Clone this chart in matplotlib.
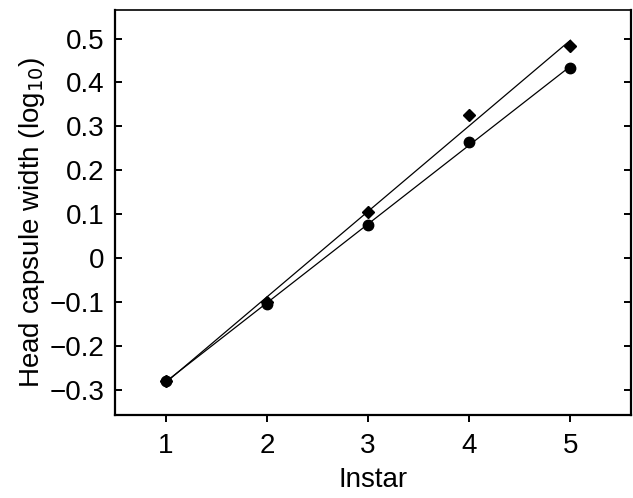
import numpy as np
import matplotlib
matplotlib.use("Agg")
import matplotlib.pyplot as plt

# Instar number vs head capsule width (log10), two groups
instar = [1, 2, 3, 4, 5]
width_a = [-0.28, -0.10, 0.105, 0.325, 0.482]   # diamonds
width_b = [-0.28, -0.105, 0.075, 0.265, 0.433]  # circles

y_ticks = [-0.3, -0.2, -0.1, 0, 0.1, 0.2, 0.3, 0.4, 0.5]
y_labels = ["\u22120.3", "\u22120.2", "\u22120.1", "0", "0.1", "0.2", "0.3", "0.4", "0.5"]

plt.rcParams["font.family"] = ["Liberation Sans", "DejaVu Sans"]

fig = plt.figure(figsize=(6.33, 4.98), dpi=100)
ax = fig.add_axes([0.182, 0.167, 0.815, 0.813])

x = np.array(instar)
for ys, mk, ms in [(width_a, "D", 6), (width_b, "o", 7.5)]:
    # fitted regression line for each group
    slope, icpt = np.polyfit(x, ys, 1)
    ax.plot(x[[0, -1]], icpt + slope * x[[0, -1]], color="black", lw=0.9)
    ax.plot(x, ys, ls="none", marker=mk, ms=ms, color="black")

ax.set_xlim(0.5, 5.6)
ax.set_ylim(-0.357, 0.565)
ax.set_xticks(instar)
ax.set_yticks(y_ticks)
ax.set_yticklabels(y_labels)

for s in ax.spines.values():
    s.set_linewidth(1.6)
ax.spines["top"].set_linewidth(1.2)

ax.tick_params(axis="x", direction="out", length=5, width=1.4, labelsize=20, pad=8)
ax.tick_params(axis="y", direction="in", length=5, width=1.4, labelsize=20,
               right=True, pad=8)

ax.set_xlabel("Instar", fontsize=20, labelpad=6)
ax.set_ylabel("Head capsule width (log$_{10}$)", fontsize=20)
ax.yaxis.set_label_coords(-0.132, 0.475)

fig.savefig("out.png", dpi=100)
